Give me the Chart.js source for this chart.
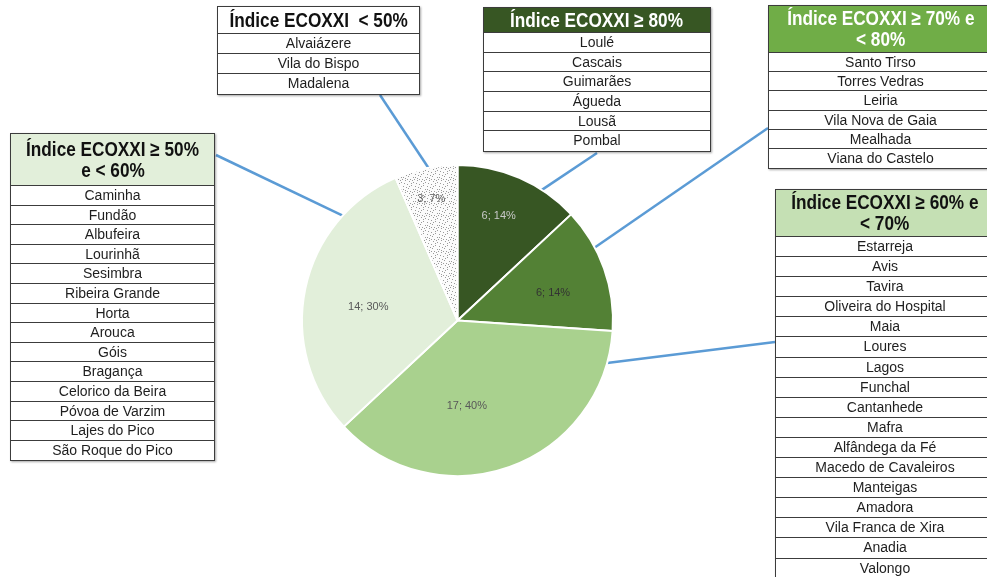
<!DOCTYPE html>
<html>
<head>
<meta charset="utf-8">
<script src="https://cdn.jsdelivr.net/npm/chart.js@4"></script>
<style>
  body { margin: 0; background: #fff; width: 987px; height: 577px; overflow: hidden; position: relative;
         font-family: "Liberation Sans", Arial, sans-serif; }
  #pie { position: absolute; left: 0; top: 0; }
  .tb { position: absolute; background: #fff; border: 1.5px solid #3c3c3c; box-sizing: border-box;
        box-shadow: 1px 1px 2px rgba(0,0,0,0.35); z-index: 2; }
  .tb .h { font-family: "Liberation Sans", Arial, sans-serif; font-weight: bold;
           font-size: 20px; line-height: 21px; text-align: center; border-bottom: 1px solid #3c3c3c;
           display: flex; flex-direction: column; justify-content: center; align-items: center; box-sizing: border-box; }
  .tb .h span { display: inline-block; white-space: pre; transform: scaleX(0.86); }
  .tb .r { font-size: 14px; text-align: center; color: #1e1e1e; border-bottom: 1px solid #3c3c3c;
           box-sizing: border-box; white-space: nowrap; }
  .tb .r:last-child { border-bottom: none; }
</style>
</head>
<body>
<canvas id="pie" width="987" height="577"></canvas>
<script>
// slices, clockwise from 12 o'clock
var categories = ['Índice ECOXXI ≥ 80%', 'Índice ECOXXI ≥ 70% e < 80%', 'Índice ECOXXI ≥ 60% e < 70%',
                  'Índice ECOXXI ≥ 50% e < 60%', 'Índice ECOXXI < 50%'];
var counts = [6, 6, 17, 14, 3];
var percentLabels = ['14%', '14%', '40%', '30%', '7%'];

// municipalities per class
var muni80 = ['Loulé', 'Cascais', 'Guimarães', 'Águeda', 'Lousã', 'Pombal'];
var muni70 = ['Santo Tirso', 'Torres Vedras', 'Leiria', 'Vila Nova de Gaia', 'Mealhada', 'Viana do Castelo'];
var muni60 = ['Estarreja', 'Avis', 'Tavira', 'Oliveira do Hospital', 'Maia', 'Loures', 'Lagos', 'Funchal',
              'Cantanhede', 'Mafra', 'Alfândega da Fé', 'Macedo de Cavaleiros', 'Manteigas', 'Amadora',
              'Vila Franca de Xira', 'Anadia', 'Valongo'];
var muni50 = ['Caminha', 'Fundão', 'Albufeira', 'Lourinhã', 'Sesimbra', 'Ribeira Grande', 'Horta', 'Arouca',
              'Góis', 'Bragança', 'Celorico da Beira', 'Póvoa de Varzim', 'Lajes do Pico', 'São Roque do Pico'];
var muniLt50 = ['Alvaiázere', 'Vila do Bispo', 'Madalena'];

// table boxes around the pie
var tables = [
  { title: ['Índice ECOXXI  < 50%'], names: muniLt50, x: 217, y: 6, w: 203, head: 27, row: 20, bg: '#ffffff', fg: '#111' },
  { title: ['Índice ECOXXI ≥ 80%'], names: muni80, x: 483, y: 7, w: 228, head: 25, row: 19.7, bg: '#375623', fg: '#fff' },
  { title: ['Índice ECOXXI ≥ 70% e', '< 80%'], names: muni70, x: 768, y: 5, w: 225, head: 47, row: 19.2, bg: '#70ad47', fg: '#fff' },
  { title: ['Índice ECOXXI ≥ 60% e', '< 70%'], names: muni60, x: 775, y: 189, w: 220, head: 47, row: 20.1, bg: '#c5e0b4', fg: '#111' },
  { title: ['Índice ECOXXI ≥ 50%', 'e < 60%'], names: muni50, x: 10, y: 133, w: 205, head: 52, row: 19.6, bg: '#e2efda', fg: '#111' }
];

tables.forEach(function (t) {
  var box = document.createElement('div');
  box.className = 'tb';
  box.style.left = t.x + 'px';
  box.style.top = t.y + 'px';
  box.style.width = t.w + 'px';
  var h = document.createElement('div');
  h.className = 'h';
  h.style.height = t.head + 'px';
  h.style.background = t.bg;
  h.style.color = t.fg;
  t.title.forEach(function (line) {
    var s = document.createElement('span');
    s.textContent = line;
    h.appendChild(s);
  });
  box.appendChild(h);
  t.names.forEach(function (n) {
    var r = document.createElement('div');
    r.className = 'r';
    r.style.height = t.row + 'px';
    r.style.lineHeight = (t.row - 1) + 'px';
    r.textContent = n;
    box.appendChild(r);
  });
  document.body.appendChild(box);
});

// speckled fill for the "< 50%" slice
function speckle() {
  var c = document.createElement('canvas');
  c.width = 12; c.height = 12;
  var g = c.getContext('2d');
  g.fillStyle = '#fbfbfb';
  g.fillRect(0, 0, 12, 12);
  g.fillStyle = '#9a9a9a';
  [[1,1],[5,2],[9,0],[3,5],[7,6],[11,4],[0,8],[5,9],[9,10],[2,11],[8,3],[6,11],
   [4,0],[10,7],[1,6],[7,9],[3,3],[11,11]].forEach(function (p) {
    g.fillRect(p[0], p[1], 1, 1);
  });
  return g.createPattern(c, 'repeat');
}

var ctx = document.getElementById('pie').getContext('2d');

// where the blue leader lines leave each slice (fraction along the slice) and where they start
var leaders = [
  { slice: 0, t: 0.70, from: [597, 153] },
  { slice: 1, t: 0.32, from: [768, 128] },
  { slice: 2, t: 0.09, from: [775, 342] },
  { slice: 3, t: 0.78, from: [216, 155] },
  { slice: 4, t: 0.54, from: [380, 95] }
];
var labelSpots = [[0.46, 0.72], [0.57, 0.64], [0.60, 0.55], [0.47, 0.58], [0.48, 0.80]];
var labelColors = ['#c9c9c9', '#333333', '#595959', '#595959', '#595959'];

var pieExtras = {
  id: 'pieExtras',
  beforeDatasetsDraw: function (chart) {
    var arcs = chart.getDatasetMeta(0).data;
    var c = chart.ctx;
    c.save();
    c.strokeStyle = '#5b9bd5';
    c.lineWidth = 2.5;
    leaders.forEach(function (l) {
      var a = arcs[l.slice];
      var ang = a.startAngle + (a.endAngle - a.startAngle) * l.t;
      c.beginPath();
      c.moveTo(l.from[0], l.from[1]);
      c.lineTo(a.x + Math.cos(ang) * a.outerRadius, a.y + Math.sin(ang) * a.outerRadius);
      c.stroke();
    });
    c.restore();
  },
  afterDatasetsDraw: function (chart) {
    var arcs = chart.getDatasetMeta(0).data;
    var c = chart.ctx;
    c.save();
    c.font = '11px "Liberation Sans", Arial, sans-serif';
    c.textAlign = 'center';
    c.textBaseline = 'middle';
    arcs.forEach(function (a, i) {
      var ang = a.startAngle + (a.endAngle - a.startAngle) * labelSpots[i][0];
      var r = a.outerRadius * labelSpots[i][1];
      c.fillStyle = labelColors[i];
      c.fillText(counts[i] + '; ' + percentLabels[i], a.x + Math.cos(ang) * r, a.y + Math.sin(ang) * r);
    });
    c.restore();
  }
};

var myChart = new Chart(ctx, {
  type: 'pie',
  data: {
    labels: categories,
    datasets: [{
      data: counts,
      backgroundColor: ['#375623', '#538135', '#a9d18e', '#e2efda', speckle()],
      borderColor: '#ffffff',
      borderWidth: 2
    }]
  },
  options: {
    responsive: false,
    animation: false,
    layout: { padding: { left: 301, right: 373, top: 164, bottom: 100 } },
    plugins: {
      legend: { display: false },
      tooltip: { enabled: false }
    }
  },
  plugins: [pieExtras]
});
</script>
</body>
</html>
